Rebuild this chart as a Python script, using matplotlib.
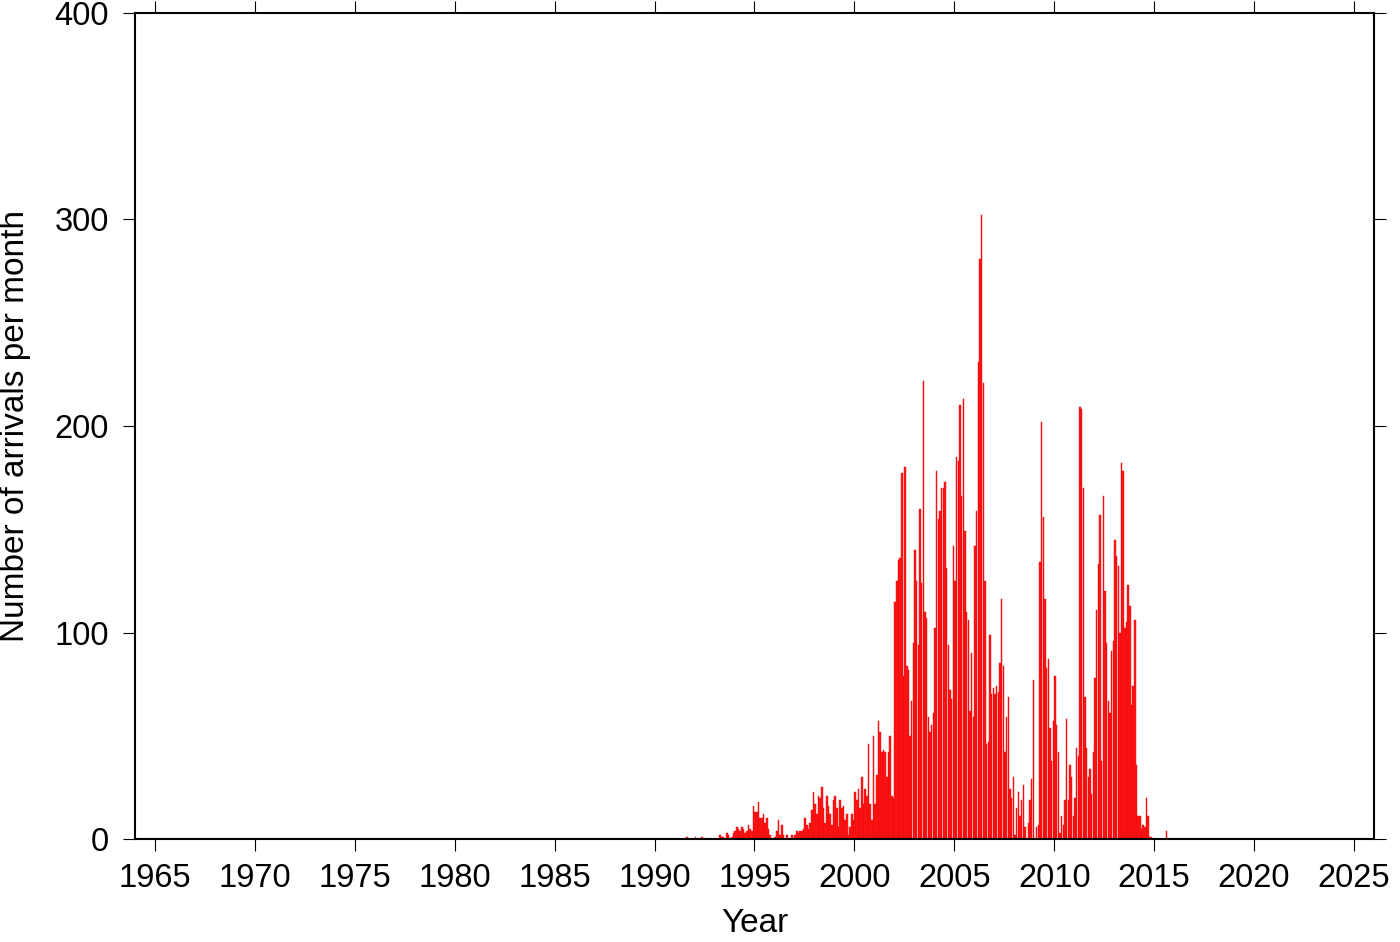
import numpy as np
import matplotlib; matplotlib.use("Agg")
import matplotlib.pyplot as plt

plt.rcParams["font.family"] = ["Liberation Sans", "DejaVu Sans"]

# ── Monthly arrival counts (Jan..Dec) ────────────────────────────────────────
start_year = 1991
counts = [
    [0, 0, 0, 0, 0, 0, 0, 1, 0, 0, 0, 0],                      # 1991
    [1, 0, 0, 0, 1, 0, 0, 0, 0, 0, 0, 0],                      # 1992
    [0, 0, 0, 2, 1, 1, 0, 3, 2, 0, 1, 3],                      # 1993
    [4, 6, 5, 4, 6, 5, 3, 4, 7, 5, 4, 16],                     # 1994
    [13, 13, 18, 10, 10, 12, 8, 10, 5, 2, 0, 0],               # 1995
    [1, 4, 9, 2, 7, 2, 0, 2, 0, 0, 2, 0],                      # 1996
    [2, 4, 3, 4, 4, 5, 10, 7, 5, 8, 14, 23],                   # 1997
    [17, 12, 21, 20, 25, 15, 8, 21, 16, 12, 7, 19],            # 1998
    [21, 15, 6, 19, 15, 16, 9, 12, 2, 6, 12, 9],               # 1999
    [23, 19, 24, 15, 30, 17, 24, 21, 46, 17, 9, 50],           # 2000
    [17, 31, 57, 52, 42, 43, 42, 30, 42, 50, 21, 20],          # 2001
    [115, 125, 135, 136, 177, 79, 180, 84, 82, 50, 67, 95],    # 2002
    [140, 125, 94, 160, 124, 222, 110, 107, 59, 52, 55, 61],   # 2003
    [102, 178, 155, 159, 170, 170, 173, 131, 94, 72, 68, 142], # 2004
    [125, 185, 183, 210, 166, 213, 149, 110, 106, 62, 90, 59], # 2005
    [142, 159, 231, 281, 302, 221, 125, 46, 47, 99, 70, 73],   # 2006
    [70, 74, 71, 85, 116, 84, 42, 59, 69, 24, 20, 30],         # 2007
    [2, 15, 23, 11, 19, 26, 6, 0, 8, 19, 29, 77],              # 2008
    [0, 6, 7, 134, 202, 156, 116, 83, 87, 54, 38, 57],         # 2009
    [79, 55, 42, 3, 11, 7, 19, 58, 19, 36, 30, 11],            # 2010
    [20, 44, 40, 209, 208, 170, 69, 44, 30, 34, 22, 42],       # 2011
    [78, 111, 133, 157, 38, 166, 120, 95, 67, 61, 91, 96],     # 2012
    [145, 137, 132, 100, 182, 178, 102, 105, 123, 113, 65, 74],# 2013
    [106, 36, 11, 11, 5, 7, 6, 20, 11, 1, 1, 0],               # 2014
    [0, 0, 0, 0, 0, 0, 0, 4, 0, 0, 0, 0],                      # 2015
]
x_ticks = list(range(1965, 2030, 5))
y_ticks = [0, 100, 200, 300, 400]

values = np.array(counts, dtype=float).ravel()
months = start_year + np.arange(values.size) / 12.0

# ── Plot ─────────────────────────────────────────────────────────────────────
fig = plt.figure(figsize=(14, 9.42), dpi=100)
ax = fig.add_axes([0.0964, 0.1093, 0.885, 0.8770])

ax.bar(months, values, width=1 / 12 * 0.9, align="edge",
       color="#ff1a1a", edgecolor="#ee0000", linewidth=0.3)

ax.set_xlim(1964, 2026)
ax.set_ylim(0, 400)
ax.set_xticks(x_ticks)
ax.set_yticks(y_ticks)
ax.tick_params(direction="out", length=8.6, width=0.8, labelsize=23.5,
               top=True, right=True)
ax.tick_params(axis="x", pad=9)
ax.tick_params(axis="y", pad=10)
for s in ax.spines.values():
    s.set_linewidth(1.5)

ax.set_xlabel("Year", fontsize=24, labelpad=10)
ax.set_ylabel("Number of arrivals per month", fontsize=24, labelpad=17)

fig.savefig("out.png", dpi=100)
